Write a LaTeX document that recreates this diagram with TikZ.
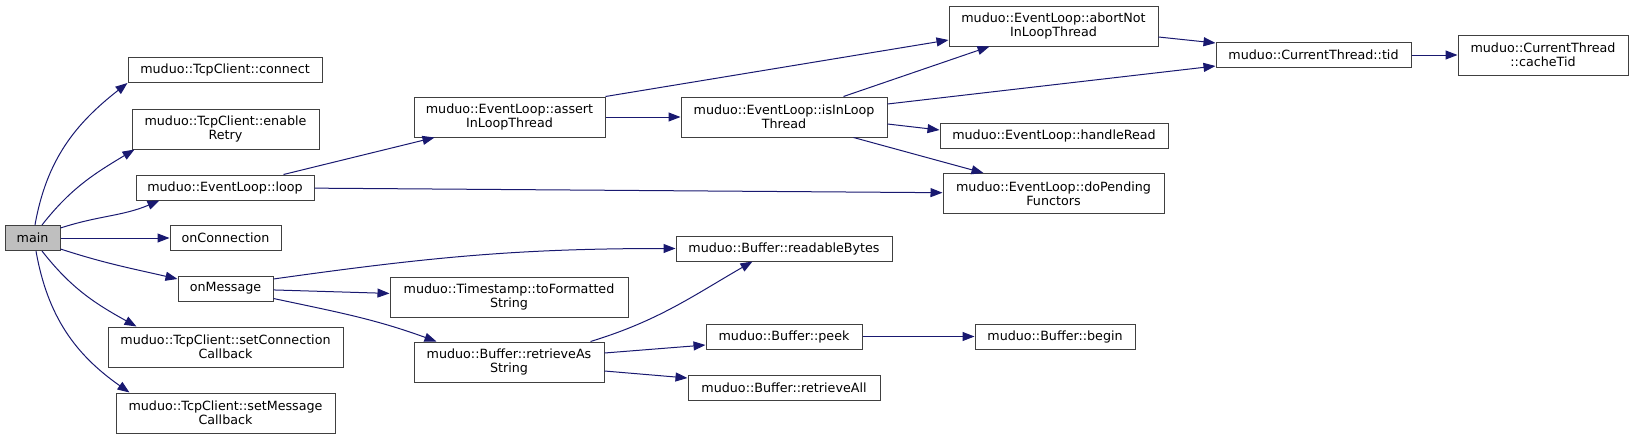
\documentclass[tikz,border=0pt]{standalone}
\usepackage{fontspec}
\setmainfont{DejaVu Sans}
\usepackage{xcolor}
\usepackage{tikz}
\usetikzlibrary{
  arrows.meta,
  positioning
}
\definecolor{edgeblue}{HTML}{191970}
\definecolor{boxline}{HTML}{404040}
\tikzset{
  fn/.style={draw=boxline,line width=1pt,fill=white,inner sep=0pt,
    align=center,minimum height=25pt,font=\fontsize{12.7}{14.3}\selectfont},
  fntwo/.style={fn,minimum height=40pt},
  call/.style={draw=edgeblue,line width=1pt,
    -{Triangle[length=12pt,width=9pt]}}
}

\begin{document}
\begin{tikzpicture}[x=1pt,y=1pt]
\useasboundingbox (0,0) rectangle (1629,-439);
% first rank
\node[fn,fill=black!25,minimum width=55pt] (main) at (32.5,-238){main};
% second rank
\node[fn,minimum width=194pt] (connect) at (225,-70){muduo::TcpClient::connect};
\node[fntwo,minimum width=187pt] (retry) at (225.5,-129){muduo::TcpClient::enable\\Retry};
\node[fn,minimum width=178pt] (loop) at (225,-187.5){muduo::EventLoop::loop};
\node[fn,minimum width=111pt] (onconn) at (225.5,-238){onConnection};
\node[fn,minimum width=95pt] (onmsg) at (225.5,-288.5){onMessage};
\node[fntwo,minimum width=235pt] (setconn) at (225.5,-347){muduo::TcpClient::setConnection\\Callback};
\node[fntwo,minimum width=219pt] (setmsg) at (225.5,-413){muduo::TcpClient::setMessage\\Callback};
% third rank
\node[fntwo,minimum width=191pt] (assert) at (509.5,-117){muduo::EventLoop::assert\\InLoopThread};
\node[fntwo,minimum width=238pt] (fmt) at (509,-297){muduo::Timestamp::toFormatted\\String};
\node[fntwo,minimum width=190pt] (retrieveas) at (509,-362){muduo::Buffer::retrieveAs\\String};
% fourth rank
\node[fntwo,minimum width=206pt] (isinloop) at (784,-117){muduo::EventLoop::isInLoop\\Thread};
\node[fn,minimum width=216pt] (readable) at (784,-248.5){muduo::Buffer::readableBytes};
\node[fn,minimum width=156pt] (peek) at (784,-336.5){muduo::Buffer::peek};
\node[fn,minimum width=192pt] (retrieveall) at (784,-387.5){muduo::Buffer::retrieveAll};
% fifth rank
\node[fntwo,minimum width=209pt] (abortnot) at (1053.5,-26){muduo::EventLoop::abortNot\\InLoopThread};
\node[fn,minimum width=228pt] (handleread) at (1054,-135.5){muduo::EventLoop::handleRead};
\node[fntwo,minimum width=221pt] (dopending) at (1053.5,-193.5){muduo::EventLoop::doPending\\Functors};
\node[fn,minimum width=160pt] (begin) at (1055,-336.5){muduo::Buffer::begin};
% last ranks
\node[fn,minimum width=195pt] (tid) at (1313.5,-55){muduo::CurrentThread::tid};
\node[fntwo,minimum width=170pt] (cachetid) at (1543,-55){muduo::CurrentThread\\::cacheTid};

% calls out of main
\draw[call] ([xshift=2.5pt]main.north) to[out=80,in=218] (connect.south west);
\draw[call] ([xshift=9.5pt]main.north) to[out=52,in=211] ([xshift=3pt]retry.south west);
\draw[call] ([yshift=-3pt]main.north east) to[out=18,in=203] ([xshift=24pt]loop.south west);
\draw[call] (main) -- (onconn);
\draw[call] ([yshift=2pt]main.south east) to[out=-18,in=167] ([yshift=9.5pt]onmsg.west);
\draw[call] ([xshift=9.5pt]main.south) to[out=-52,in=151] ([xshift=29pt]setconn.north west);
\draw[call] ([xshift=3.5pt]main.south) to[out=-80,in=145] ([xshift=14pt]setmsg.north west);
% event loop
\draw[call] ([xshift=-31pt]loop.north east) -- ([xshift=21pt]assert.south west);
\draw[call] (loop) -- (dopending);
\draw[call] (assert.north east) -- ([yshift=-14pt]abortnot.west);
\draw[call] (assert) -- (isinloop);
\draw[call] ([xshift=-44pt]isinloop.north east) -- ([xshift=41pt]abortnot.south west);
\draw[call] ([yshift=13pt]isinloop.east) -- ([yshift=-11pt]tid.west);
\draw[call] ([yshift=-7pt]isinloop.east) -- ([yshift=5.5pt]handleread.west);
\draw[call] ([xshift=-34pt]isinloop.south east) -- ([xshift=41pt]dopending.north west);
\draw[call] ([yshift=-11pt]abortnot.east) -- ([yshift=12pt]tid.west);
\draw[call] (tid) -- (cachetid);
% buffer
\draw[call] ([yshift=9.5pt]onmsg.east) to[out=8,in=180] (readable.west);
\draw[call] (onmsg) -- (fmt);
\draw[call] ([yshift=3pt]onmsg.south east) to[out=-12,in=160] ([xshift=23pt]retrieveas.north west);
\draw[call] ([xshift=-14pt]retrieveas.north east) to[out=17,in=210] ([xshift=77pt]readable.south west);
\draw[call] ([yshift=9pt]retrieveas.east) -- ([yshift=-8.5pt]peek.west);
\draw[call] ([yshift=-9pt]retrieveas.east) -- ([yshift=9.5pt]retrieveall.west);
\draw[call] (peek) -- (begin);
\end{tikzpicture}
\end{document}
